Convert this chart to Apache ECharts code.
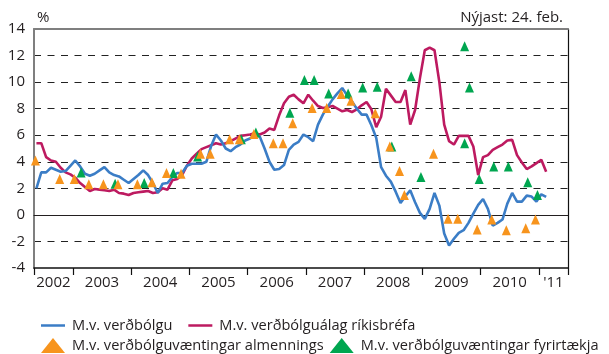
<!DOCTYPE html>
<html>
<head>
<meta charset="utf-8">
<script src="https://cdn.jsdelivr.net/npm/echarts@6/dist/echarts.min.js"></script>
<style>
  html, body { margin: 0; padding: 0; background: #fff; }
  #chart { width: 609px; height: 354px; }
</style>
</head>
<body>
<div id="chart"></div>
<script>
// Monthly axis: May 2002 to June 2011 (one band per month)
const startYear = 2002, startMonth = 4, monthCount = 110;
const months = [];
for (let i = 0; i < monthCount; i++) {
  const m = startMonth + i;
  months.push((startYear + Math.floor(m / 12)) + '-' + String(m % 12 + 1).padStart(2, '0'));
}

const yearLabels = ['2002', '2003', '2004', '2005', '2006', '2007', '2008', '2009', '2010', "'11"];

// Real interest rate based on measured inflation, May 2002 – Feb 2011 (%)
const inflationBased = [
  2.0, 3.2, 3.2, 3.55, 3.4, 3.25, 3.3, 3.7, 4.1, 3.65, 3.1, 2.95,
  3.1, 3.35, 3.6, 3.2, 3.0, 2.9, 2.65, 2.4, 2.7, 3.0, 3.35, 3.0,
  2.4, 1.65, 2.35, 2.4, 2.85, 3.15, 3.15, 3.7, 3.85, 3.85, 3.85, 4.0,
  5.2, 6.05, 5.6, 5.0, 4.8, 5.1, 5.3, 5.6, 5.75, 6.0, 5.9, 5.0,
  4.0, 3.4, 3.45, 3.75, 4.9, 5.3, 5.5, 6.05, 5.85, 5.55, 6.8, 7.55,
  8.15, 8.7, 9.15, 9.55, 9.0, 8.55, 8.0, 7.55, 7.55, 6.75, 5.8, 3.6,
  2.95, 2.5, 1.75, 0.9, 1.4, 1.85, 0.95, 0.15, -0.3, 0.45, 1.65, 0.7,
  -1.4, -2.3, -1.8, -1.35, -1.15, -0.6, 0.1, 0.75, 1.2, 0.45, -0.8, -0.6,
  -0.35, 0.85, 1.65, 1.0, 1.0, 1.45, 1.38, 1.0, 1.55, 1.35
];

// Real interest rate based on breakeven inflation of government bonds (%)
const breakevenBased = [
  5.4, 5.4, 4.35, 4.1, 4.0, 3.55, 3.2, 3.05, 2.8, 2.4, 2.1, 1.8,
  1.95, 1.9, 1.85, 1.8, 1.9, 1.65, 1.6, 1.5, 1.65, 1.7, 1.75, 1.8,
  1.65, 1.7, 2.0, 1.9, 2.6, 2.7, 3.0, 3.7, 4.25, 4.6, 4.95, 5.1,
  5.25, 5.4, 5.3, 5.4, 5.55, 5.75, 5.95, 6.0, 6.05, 6.15, 6.05, 6.2,
  6.5, 6.4, 7.5, 8.4, 8.9, 9.05, 8.7, 8.4, 9.05, 8.6, 8.2, 8.05,
  8.1, 8.2, 8.0, 7.8, 7.9, 7.75, 7.95, 8.25, 8.5, 7.95, 6.6, 7.4,
  9.5, 9.0, 8.5, 8.5, 9.4, 6.8, 7.9, 10.3, 12.4, 12.6, 12.4, 10.0,
  6.8, 5.55, 5.3, 5.95, 5.95, 5.95, 5.15, 3.0, 4.35, 4.5, 4.9, 5.1,
  5.3, 5.6, 5.65, 4.5, 3.95, 3.45, 3.65, 3.9, 4.15, 3.25
];

// Based on households' inflation expectations (survey months and values, %)
const householdMonths = [
  '2002-05', '2002-10', '2003-01', '2003-04', '2003-07', '2003-10', '2004-02', '2004-05',
  '2004-08', '2004-11', '2005-03', '2005-05', '2005-09', '2005-11', '2006-02', '2006-06',
  '2006-08', '2006-10', '2007-02', '2007-05', '2007-08', '2007-10', '2008-03', '2008-06',
  '2008-08', '2008-09', '2009-03', '2009-06', '2009-08', '2009-12', '2010-03', '2010-06',
  '2010-10', '2010-12'
];
const householdValues = [
  4.1, 2.7, 2.7, 2.3, 2.3, 2.3, 2.3, 2.45,
  3.15, 3.1, 4.6, 4.6, 5.7, 5.7, 6.1, 5.4,
  5.4, 6.9, 8.05, 8.05, 9.1, 8.6, 7.65, 5.15,
  3.3, 1.5, 4.6, -0.3, -0.3, -1.1, -0.35, -1.15,
  -1.0, -0.35
];

// Based on firms' inflation expectations (survey months and values, %)
const firmMonths = [
  '2003-02', '2003-09', '2004-03', '2004-09', '2005-02', '2005-11', '2006-02', '2006-09',
  '2006-12', '2007-02', '2007-05', '2007-09', '2007-12', '2008-03', '2008-06', '2008-10',
  '2008-12', '2009-09', '2009-09', '2009-10', '2009-12', '2010-03', '2010-06', '2010-10',
  '2010-12'
];
const firmValues = [
  3.2, 2.35, 2.4, 3.15, 4.4, 5.7, 6.2, 7.7,
  10.15, 10.15, 9.15, 9.15, 9.6, 9.65, 5.15, 10.45,
  2.85, 12.7, 5.4, 9.6, 2.7, 3.65, 3.65, 2.45,
  1.5
];

const seriesNames = [
  'M.v. verðbólgu',
  'M.v. verðbólguálag ríkisbréfa',
  'M.v. verðbólguvæntingar almennings',
  'M.v. verðbólguvæntingar fyrirtækja'
];

// Year label and tick positions, in month-band units
const yearLabelPos = [];
const yearTickPos = [0];
yearLabels.forEach(function (lab, i) {
  const y = String(startYear + i);
  const first = months.findIndex(function (m) { return m.startsWith(y); });
  let last = first;
  while (last + 1 < months.length && months[last + 1].startsWith(y)) last++;
  yearLabelPos.push((first + last + 1) / 2);
  if (first > 0) yearTickPos.push(first);
});
yearTickPos.push(monthCount);

const FONT = 'Open Sans';
const FS = 15;
const LFS = 14.6;
const TXT = '#231f20';

const chart = echarts.init(document.getElementById('chart'), null, { renderer: 'canvas' });
chart.setOption({
  animation: false,
  textStyle: { fontFamily: FONT, color: TXT },
  title: [
    { text: '%', left: 32, top: 5, textStyle: { fontFamily: FONT, fontSize: FS, fontWeight: 'normal', color: TXT } },
    { text: 'Nýjast: 24. feb.', right: 41, top: 5, textStyle: { fontFamily: FONT, fontSize: FS, fontWeight: 'normal', color: TXT } }
  ],
  grid: { left: 34, right: 41, top: 29, bottom: 86, containLabel: false },
  xAxis: [
    {
      type: 'category', data: months, boundaryGap: true,
      axisLine: { show: true, onZero: true, lineStyle: { color: '#231f20', width: 1.2 } },
      axisTick: { show: false }, axisLabel: { show: false }, splitLine: { show: false }
    },
    {
      type: 'value', min: 0, max: monthCount, position: 'bottom',
      axisLine: { show: true, onZero: false, lineStyle: { color: '#111', width: 1.5 } },
      axisTick: { show: true, customValues: yearTickPos, length: 7, lineStyle: { color: '#111', width: 1.2 } },
      axisLabel: {
        show: true, customValues: yearLabelPos, margin: 7,
        fontFamily: FONT, fontSize: FS, color: TXT,
        formatter: function (v) {
          const i = yearLabelPos.findIndex(function (p) { return Math.abs(p - v) < 1e-6; });
          return i >= 0 ? yearLabels[i] : '';
        }
      },
      splitLine: { show: false }
    },
    {
      type: 'value', min: 0, max: monthCount, position: 'top',
      axisLine: { show: true, onZero: false, lineStyle: { color: '#7f7f7f', width: 2 } },
      axisTick: { show: false }, axisLabel: { show: false }, splitLine: { show: false }
    }
  ],
  yAxis: [
    {
      type: 'value', min: -4, max: 14, interval: 2, position: 'left',
      axisLine: { show: true, onZero: false, lineStyle: { color: '#7f7f7f', width: 2 } },
      axisTick: { show: false },
      axisLabel: { margin: 9, fontFamily: FONT, fontSize: FS, color: TXT },
      splitLine: {
        show: true, showMinLine: false, showMaxLine: false,
        lineStyle: { color: '#222', width: 1.1, type: [7, 6.5] }
      }
    },
    {
      type: 'value', min: -4, max: 14, interval: 2, position: 'right',
      axisLine: { show: true, onZero: false, lineStyle: { color: '#111', width: 1.2 } },
      axisTick: { show: false }, axisLabel: { show: false }, splitLine: { show: false }
    }
  ],
  legend: [
    {
      data: [seriesNames[0], seriesNames[1]],
      left: 36, top: 313, width: 570, itemWidth: 24, itemHeight: 14, itemGap: 16,
      icon: 'path://M0,6 L24,6 L24,8.5 L0,8.5 Z',
      textStyle: { fontFamily: FONT, fontSize: LFS, color: TXT, padding: [0, 0, 0, 2] }
    },
    {
      data: [seriesNames[2], seriesNames[3]],
      left: 36, top: 333, width: 572, itemWidth: 24, itemHeight: 15, itemGap: 6,
      textStyle: { fontFamily: FONT, fontSize: LFS, color: TXT, padding: [0, 0, 0, 2] }
    }
  ],
  series: [
    {
      name: seriesNames[1], type: 'line', xAxisIndex: 0, yAxisIndex: 0,
      data: breakevenBased, symbol: 'none', z: 2,
      lineStyle: { color: '#bd1a60', width: 2.6 }, itemStyle: { color: '#bd1a60' }
    },
    {
      name: seriesNames[0], type: 'line', xAxisIndex: 0, yAxisIndex: 0,
      data: inflationBased, symbol: 'none', z: 3,
      lineStyle: { color: '#3b7dc6', width: 2.6 }, itemStyle: { color: '#3b7dc6' }
    },
    {
      name: seriesNames[3], type: 'scatter', xAxisIndex: 0, yAxisIndex: 0,
      data: firmMonths.map(function (m, i) { return [m, firmValues[i]]; }),
      symbol: 'triangle', symbolSize: [9, 10], symbolOffset: [1, 0], z: 4,
      itemStyle: { color: '#00a650', opacity: 1 }
    },
    {
      name: seriesNames[2], type: 'scatter', xAxisIndex: 0, yAxisIndex: 0,
      data: householdMonths.map(function (m, i) { return [m, householdValues[i]]; }),
      symbol: 'triangle', symbolSize: [9, 10], symbolOffset: [-1, 0], z: 5,
      itemStyle: { color: '#f7941d', opacity: 1 }
    }
  ]
});
</script>
</body>
</html>
